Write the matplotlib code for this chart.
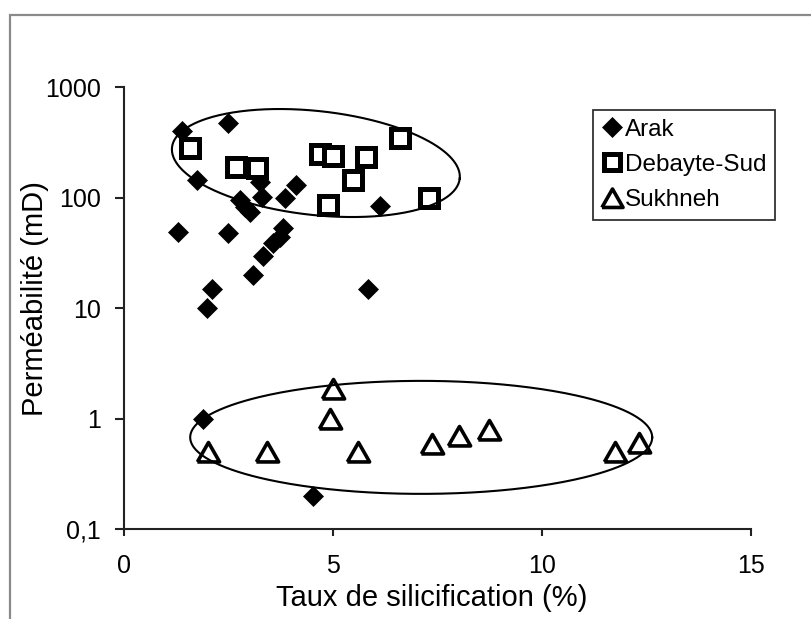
import numpy as np
import matplotlib
matplotlib.use("Agg")
import matplotlib.pyplot as plt
from matplotlib.patches import Rectangle

plt.rcParams['font.family'] = ['Liberation Sans', 'DejaVu Sans']

# Données
arak_x = [1.38, 2.50, 1.74, 3.25, 4.11, 3.85, 3.30, 2.78, 3.01, 2.89, 6.12,
          1.30, 2.50, 3.81, 3.73, 3.57, 3.33, 3.09, 2.10, 1.99, 5.83, 1.89, 4.51]
arak_y = [405, 480, 145, 140, 130, 99, 102, 95, 75, 83, 85,
          49, 48, 53, 44, 39, 30, 20, 15, 10, 15, 1.0, 0.2]

debayte_x = [1.58, 2.68, 3.19, 4.69, 5.01, 5.79, 5.49, 4.89, 6.60, 7.30]
debayte_y = [280, 191, 185, 249, 240, 232, 145, 86, 345, 99]

sukhneh_x = [5.00, 4.92, 2.00, 3.41, 5.61, 7.38, 8.02, 8.73, 11.74, 12.33]
sukhneh_y = [1.87, 1.0, 0.5, 0.5, 0.5, 0.59, 0.69, 0.79, 0.5, 0.60]

x_ticks = [0, 5, 10, 15]
y_ticks = [0.1, 1, 10, 100, 1000]
y_tick_labels = ['0,1', '1', '10', '100', '1000']

# Ellipses : centre (x, log10 y), demi-axes en pixels, angle (degrés)
ell_top = (4.59, 2.315, 144.7, 52.0, -6.2)
ell_bot = (7.11, -0.17, 231.0, 56.5, 0.0)

W, H = 811, 619
fig = plt.figure(figsize=(W / 100, H / 100), dpi=100)
ax = fig.add_axes([124 / W, 1 - 529 / H, 627 / W, 441.6 / H])

# cadre gris autour du graphique
fig.patches.append(Rectangle((10 / W, -0.2), 1.2, 1 - 15 / H + 0.2,
                             transform=fig.transFigure, fill=False,
                             edgecolor='#8a8a8a', linewidth=1.6,
                             clip_on=False))

ax.set_yscale('log')
ax.set_xlim(0, 15)
ax.set_ylim(0.1, 1000)

tri = [(-1, -0.85), (1, -0.85), (0, 0.9), (-1, -0.85)]

ax.plot(arak_x, arak_y, 'D', ms=10.5, color='black', mew=0.5,
        label='Arak', zorder=3)
ax.plot(debayte_x, debayte_y, 's', ms=12.5, mfc='white', mec='black',
        mew=3.6, label='Debayte-Sud', zorder=4)
ax.plot(sukhneh_x, sukhneh_y, marker=tri, ls='none', ms=16, mfc='white',
        mec='black', mew=2.6, label='Sukhneh', zorder=4)

# tracé des ellipses en espace pixel
px_x = 627 / 15
px_dec = 441.6 / 4
t = np.linspace(0, 2 * np.pi, 400)
for cx, cy, a, b, ang in [ell_top, ell_bot]:
    th = np.deg2rad(ang)
    u = a * np.cos(t)
    v = b * np.sin(t)
    X = u * np.cos(th) - v * np.sin(th)
    Y = u * np.sin(th) + v * np.cos(th)
    ax.plot(cx + X / px_x, 10 ** (cy + Y / px_dec), color='black', lw=1.5,
            zorder=5)

ax.set_xticks(x_ticks)
ax.set_yticks(y_ticks)
ax.set_yticklabels(y_tick_labels)
ax.minorticks_off()

for s in ['top', 'right']:
    ax.spines[s].set_visible(False)
for s in ['left', 'bottom']:
    ax.spines[s].set_linewidth(1.5)
    ax.spines[s].set_color('#222222')

ax.tick_params(axis='y', direction='out', length=6.5, width=1.5,
               color='#222222', labelsize=18, pad=10)
ax.tick_params(axis='x', direction='out', length=5, width=1.5,
               color='#222222', labelsize=18, pad=13)

ax.set_xlabel('Taux de silicification (%)', fontsize=21)
ax.set_ylabel('Perméabilité (mD)', fontsize=21)
ax.xaxis.set_label_coords(0.49, -(584 - 529) / 441.6)
ax.yaxis.set_label_coords(-(124 - 49) / 627, 0.522)

leg = ax.legend(loc='upper right', bbox_to_anchor=(775 / W, 1 - 110 / H),
                bbox_transform=fig.transFigure, fontsize=17.5, frameon=True,
                fancybox=False, borderaxespad=0, handlelength=0.8,
                handletextpad=0.15, labelspacing=0.55, borderpad=0.35,
                markerscale=0.95)
leg.get_frame().set_edgecolor('black')
leg.get_frame().set_linewidth(1.3)

fig.savefig('out.png', dpi=100)
